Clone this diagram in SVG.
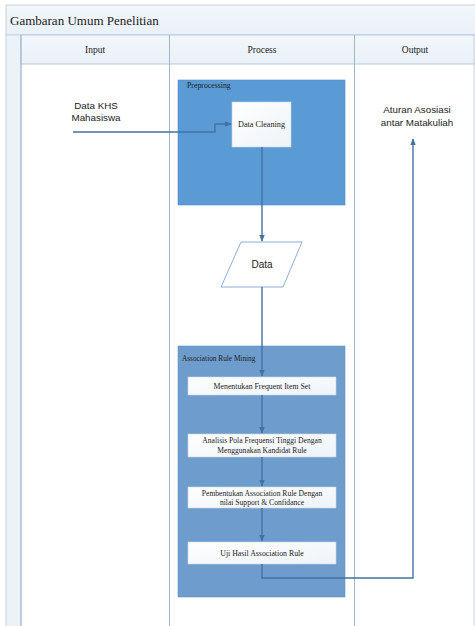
<svg xmlns="http://www.w3.org/2000/svg" width="475" height="626" viewBox="0 0 475 626">
<defs>
<linearGradient id="hdr" x1="0" y1="0" x2="0" y2="1"><stop offset="0" stop-color="#f3f7fb"/><stop offset="1" stop-color="#e9f0f8"/></linearGradient>
<linearGradient id="box" x1="0" y1="0" x2="1" y2="1"><stop offset="0" stop-color="#ffffff"/><stop offset="1" stop-color="#eef3f9"/></linearGradient>
<marker id="ah" viewBox="0 0 10 10" refX="9" refY="5" markerWidth="5" markerHeight="5" orient="auto"><path d="M0,1 L10,5 L0,9 z" fill="#4472a0"/></marker>
<style>
.serif{font-family:"Liberation Serif","Times New Roman",serif;fill:#222}
.sans{font-family:"Liberation Sans",Arial,sans-serif;fill:#222}
.node{fill:url(#box);stroke:#c9d6e4;stroke-width:0.6}
.conn{fill:none;stroke:#4472a0;stroke-width:1.4;marker-end:url(#ah)}
</style>
</defs>
<rect width="475" height="626" fill="#ffffff"/>
<g id="frame">
<rect x="6" y="5" width="475" height="30" fill="url(#hdr)" stroke="#c5d3e0"/>
<rect x="6" y="35" width="15" height="595" fill="#edf2f8" stroke="#c5d3e0"/>
<rect x="21" y="35" width="460" height="29" fill="url(#hdr)" stroke="#b4c7d9"/>
<line x1="21" y1="35" x2="21" y2="626" stroke="#9fb6cc"/>
<line x1="169.5" y1="35" x2="169.5" y2="626" stroke="#9fb6cc"/>
<line x1="354.5" y1="35" x2="354.5" y2="626" stroke="#9fb6cc"/>
<line x1="474" y1="35" x2="474" y2="626" stroke="#c5d3e0"/>
<text class="serif" x="10" y="25" font-size="13">Gambaran Umum Penelitian</text>
<text class="serif" x="95" y="53" font-size="9.5" text-anchor="middle">Input</text>
<text class="serif" x="262" y="53" font-size="9.5" text-anchor="middle">Process</text>
<text class="serif" x="415" y="53" font-size="9.5" text-anchor="middle">Output</text>
</g>
<g id="preprocessing">
<rect x="178" y="80" width="167" height="125" fill="#5b9bd5" stroke="#4f8cc6" stroke-width="0.6"/>
<text class="serif" x="187" y="88" font-size="7.8" fill="#1f2f4a">Preprocessing</text>
</g>
<g id="association-rule-mining">
<rect x="178" y="346" width="167" height="251" fill="#6e9ccc" stroke="#6390c0" stroke-width="0.6"/>
<text class="serif" x="182" y="361" font-size="7.3" fill="#1f2f4a">Association Rule Mining</text>
</g>
<g id="input-data">
<text class="sans" x="96" y="109" font-size="9.8" text-anchor="middle">Data KHS</text>
<text class="sans" x="96" y="121" font-size="9.8" text-anchor="middle">Mahasiswa</text>
</g>
<g id="output-rules">
<text class="sans" x="417" y="113" font-size="9.8" text-anchor="middle">Aturan Asosiasi</text>
<text class="sans" x="417" y="126" font-size="9.8" text-anchor="middle">antar Matakuliah</text>
</g>
<g id="data-cleaning">
<rect class="node" x="232" y="102" width="59" height="45"/>
<text class="serif" x="261.5" y="127" font-size="8.2" text-anchor="middle">Data Cleaning</text>
</g>
<g id="data">
<polygon points="241,242 302,242 283,287 221,287" fill="#ffffff" stroke="#6f9bc8" stroke-width="0.8"/>
<text class="sans" x="262" y="268" font-size="10" text-anchor="middle">Data</text>
</g>
<g id="frequent-itemset">
<rect class="node" x="188" y="377" width="148" height="18"/>
<text class="serif" x="262" y="389" font-size="7.8" text-anchor="middle">Menentukan Frequent Item Set</text>
</g>
<g id="analisis">
<rect class="node" x="188" y="434" width="148" height="23"/>
<text class="serif" x="262" y="443" font-size="7.6" text-anchor="middle">Analisis Pola Frequensi Tinggi Dengan</text>
<text class="serif" x="262" y="453" font-size="7.6" text-anchor="middle">Menggunakan Kandidat Rule</text>
</g>
<g id="pembentukan">
<rect class="node" x="188" y="487" width="148" height="21"/>
<text class="serif" x="262" y="495.5" font-size="7.6" text-anchor="middle">Pembentukan Association Rule Dengan</text>
<text class="serif" x="262" y="505" font-size="7.6" text-anchor="middle">nilai Support &amp; Confidance</text>
</g>
<g id="uji">
<rect class="node" x="188" y="542" width="148" height="22"/>
<text class="serif" x="262" y="556" font-size="7.8" text-anchor="middle">Uji Hasil Association Rule</text>
</g>
<g id="connectors">
<polyline class="conn" points="73,132 215,132 215,124 231,124"/>
<polyline class="conn" points="262,147 262,241"/>
<polyline class="conn" points="262,287 262,376"/>
<polyline class="conn" points="262,395 262,433"/>
<polyline class="conn" points="262,457 262,486"/>
<polyline class="conn" points="262,508 262,541"/>
<polyline class="conn" points="262,564 262,578 413,578 413,139"/>
</g>
</svg>
